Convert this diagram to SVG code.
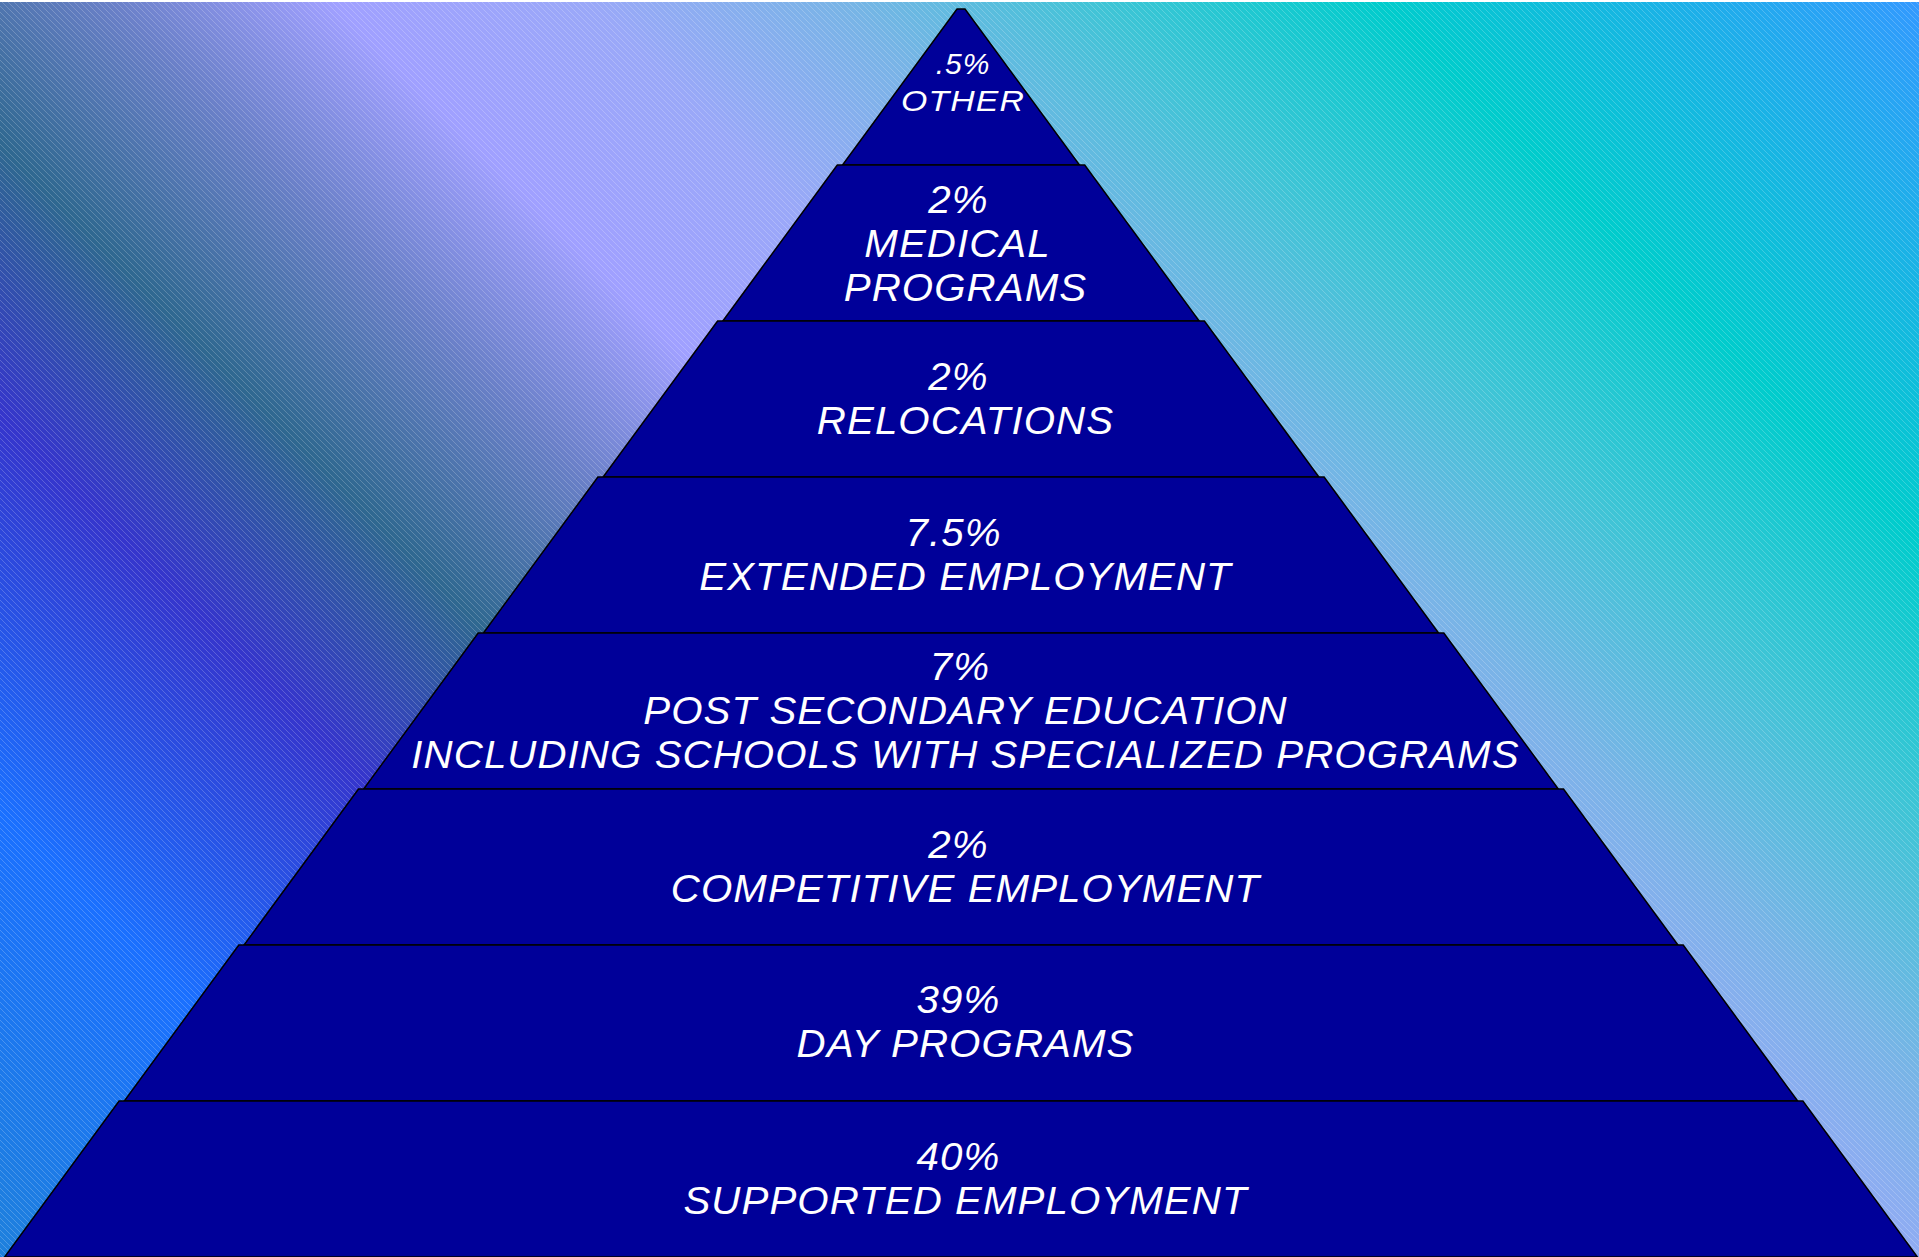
<svg xmlns="http://www.w3.org/2000/svg" width="1919" height="1257" viewBox="0 0 1919 1257">
<style>
.band{fill:#000099;stroke:#000;stroke-width:1.5;stroke-linejoin:miter}
.lbl{font-family:"Liberation Sans",Arial,sans-serif;font-style:italic;font-size:38px;fill:#fff;text-anchor:middle;letter-spacing:1px}
.sm{font-size:30px}
</style>
<defs>
<linearGradient id="bg" gradientUnits="userSpaceOnUse" x1="0" y1="1257" x2="1588" y2="-331">
<stop offset="0" stop-color="#1e80dc"/>
<stop offset="0.14" stop-color="#1a70ff"/>
<stop offset="0.265" stop-color="#3535cc"/>
<stop offset="0.35" stop-color="#2f6890"/>
<stop offset="0.43" stop-color="#6a80c8"/>
<stop offset="0.50" stop-color="#a0a0ff"/>
<stop offset="0.58" stop-color="#9aa8f8"/>
<stop offset="0.66" stop-color="#78b4e6"/>
<stop offset="0.74" stop-color="#40c4d6"/>
<stop offset="0.83" stop-color="#00cccc"/>
<stop offset="1" stop-color="#3399ff"/>
</linearGradient>
<pattern id="stripes" patternUnits="userSpaceOnUse" width="6" height="6">
<path d="M-1,-1 L7,7 M-7,-1 L1,7 M5,-1 L13,7" stroke="#ffffff" stroke-opacity="0.2" stroke-width="1"/>
</pattern>
</defs>
<rect x="0" y="0" width="1919" height="1257" fill="#ffffff"/>
<rect x="0" y="2" width="1919" height="1255" fill="url(#bg)"/>
<rect x="0" y="2" width="1919" height="1255" fill="url(#stripes)"/>

<g id="band-other">
<polygon class="band" points="957,9 965,9 1079.5,165 842.5,165"/>
<text class="lbl sm" x="963" y="74" letter-spacing="4">.5%</text>
<text class="lbl sm" x="963" y="111" letter-spacing="0" textLength="124" lengthAdjust="spacingAndGlyphs">OTHER</text>
</g>
<g id="band-medical">
<polygon class="band" points="837.3,165 1084.7,165 1199.2,321 722.8,321"/>
<text class="lbl" transform="translate(958.5,0) scale(1.06,1)" x="0" y="213">2%</text>
<text class="lbl" transform="translate(957.5,0) scale(1.06,1)" x="0" y="257">MEDICAL</text>
<text class="lbl" transform="translate(965.5,0) scale(1.06,1)" x="0" y="301">PROGRAMS</text>
</g>
<g id="band-relocations">
<polygon class="band" points="717.6,321 1204.4,321 1318.9,477 603.1,477"/>
<text class="lbl" transform="translate(958.5,0) scale(1.06,1)" x="0" y="390">2%</text>
<text class="lbl" transform="translate(965.5,0) scale(1.06,1)" x="0" y="434">RELOCATIONS</text>
</g>
<g id="band-extended">
<polygon class="band" points="597.9,477 1324.1,477 1438.6,633 483.4,633"/>
<text class="lbl" transform="translate(953.5,0) scale(1.06,1)" x="0" y="546">7.5%</text>
<text class="lbl" transform="translate(965.5,0) scale(1.06,1)" x="0" y="590">EXTENDED EMPLOYMENT</text>
</g>
<g id="band-postsecondary">
<polygon class="band" points="478.2,633 1443.8,633 1558.3,789 363.7,789"/>
<text class="lbl" transform="translate(960,0) scale(1.06,1)" x="0" y="680">7%</text>
<text class="lbl" transform="translate(965.5,0) scale(1.06,1)" x="0" y="724">POST SECONDARY EDUCATION</text>
<text class="lbl" transform="translate(965.5,0) scale(1.06,1)" x="0" y="768">INCLUDING SCHOOLS WITH SPECIALIZED PROGRAMS</text>
</g>
<g id="band-competitive">
<polygon class="band" points="358.5,789 1563.5,789 1678,945 244,945"/>
<text class="lbl" transform="translate(958.5,0) scale(1.06,1)" x="0" y="858">2%</text>
<text class="lbl" transform="translate(965.5,0) scale(1.06,1)" x="0" y="902">COMPETITIVE EMPLOYMENT</text>
</g>
<g id="band-day">
<polygon class="band" points="238.8,945 1683.2,945 1797.7,1101 124.3,1101"/>
<text class="lbl" transform="translate(958.5,0) scale(1.06,1)" x="0" y="1013">39%</text>
<text class="lbl" transform="translate(965.5,0) scale(1.06,1)" x="0" y="1057">DAY PROGRAMS</text>
</g>
<g id="band-supported">
<polygon class="band" points="119.1,1101 1802.9,1101 1917.4,1257 4.6,1257"/>
<text class="lbl" transform="translate(958.5,0) scale(1.06,1)" x="0" y="1170">40%</text>
<text class="lbl" transform="translate(965.5,0) scale(1.06,1)" x="0" y="1214">SUPPORTED EMPLOYMENT</text>
</g>
</svg>
